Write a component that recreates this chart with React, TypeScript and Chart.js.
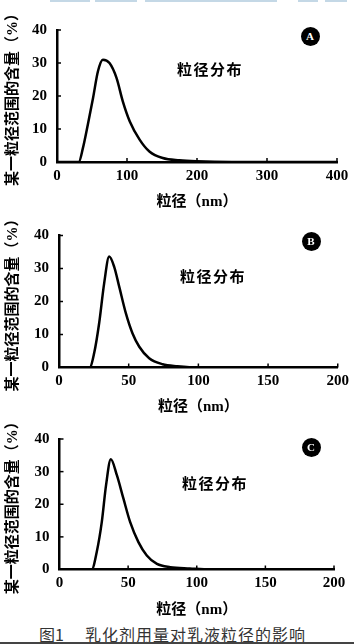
import React, { useEffect, useRef } from "react";
import { Chart, registerables } from "chart.js";

Chart.register(...registerables);

// ---- data ----
const sizeA = [0, 31, 37, 44, 51.5, 58.5, 65.5, 75, 85, 94, 104, 118, 132, 151, 175, 200, 250, 300, 400];
const contentA = [0, 0, 4.2, 11.3, 19.4, 27.5, 31, 30, 25.5, 18.4, 12.3, 6.8, 3.2, 1.2, 0.5, 0.2, 0, 0, 0];

const sizeB = [0, 22, 25.2, 28.8, 32.4, 36, 39.6, 43.2, 48, 52.7, 57.6, 64.7, 74.3, 85, 100, 150, 200];
const contentB = [0, 0, 4.3, 13.4, 25.5, 33.6, 30.5, 24.5, 16.4, 10.4, 6.3, 2.8, 1, 0.4, 0, 0, 0];

const sizeC = [0, 23.5, 27.1, 30.8, 33.9, 37.4, 41.8, 46.6, 51.5, 57.5, 63.6, 71, 80.7, 95, 110, 150, 200];
const contentC = [0, 0, 5.3, 14.5, 25.8, 33.8, 28.9, 21.7, 14.5, 8.4, 4.3, 1.7, 0.7, 0.3, 0, 0, 0];

const xTicksA = [0, 100, 200, 300, 400];
const xTicksBC = [0, 50, 100, 150, 200];
const yTicks = [0, 10, 20, 30, 40];

const xTitle = "粒径（nm）";
const yTitle = "某一粒径范围的含量（%）";
const seriesLabel = "粒径分布";
const caption1 = "图1";
const caption2 = "乳化剂用量对乳液粒径的影响";

const W = 354;

const innerTicks = {
  id: "innerTicks",
  afterDraw(chart: any) {
    const ctx = chart.ctx;
    const { x, y } = chart.scales;
    ctx.save();
    ctx.strokeStyle = "#000";
    ctx.lineWidth = 1.5;
    x.ticks.forEach((t: any) => {
      if (t.value === 0) return;
      const px = x.getPixelForValue(t.value);
      ctx.beginPath();
      ctx.moveTo(px, y.bottom);
      ctx.lineTo(px, y.bottom - 4);
      ctx.stroke();
    });
    y.ticks.forEach((t: any) => {
      if (t.value === 0) return;
      const py = y.getPixelForValue(t.value);
      ctx.beginPath();
      ctx.moveTo(x.left, py);
      ctx.lineTo(x.left + 4, py);
      ctx.stroke();
    });
    ctx.restore();
  },
};

type PanelProps = {
  top: number;
  height: number;
  plotTop: number;
  plotBottom: number;
  plotLeft: number;
  plotRight: number;
  xs: number[];
  ys: number[];
  xTicks: number[];
  tickPad: number;
  titlePad: number;
};

function Panel(p: PanelProps) {
  const ref = useRef<HTMLCanvasElement>(null);
  useEffect(() => {
    if (!ref.current) return;
    const tickFont = { family: '"Liberation Serif", "DejaVu Serif", serif', size: 15, weight: "bold" as const };
    const titleFont = { family: '"Liberation Serif", "Noto Sans CJK SC", serif', size: 15, weight: "bold" as const };
    const xMax = p.xTicks[p.xTicks.length - 1];
    const chart = new Chart(ref.current, {
      type: "line",
      data: {
        datasets: [
          {
            label: seriesLabel,
            data: p.xs.map((v, i) => ({ x: v, y: p.ys[i] })),
            borderColor: "#000",
            borderWidth: 2.5,
            pointRadius: 0,
            fill: false,
            cubicInterpolationMode: "monotone",
          },
        ],
      },
      options: {
        animation: false,
        responsive: false,
        maintainAspectRatio: false,
        layout: {
          padding: { left: 0, top: p.plotTop - p.top, right: W - p.plotRight, bottom: 0 },
        },
        plugins: { legend: { display: false }, tooltip: { enabled: false } },
        scales: {
          x: {
            type: "linear",
            min: 0,
            max: xMax,
            afterFit: (s: any) => {
              s.height = p.top + p.height - p.plotBottom;
            },
            afterBuildTicks: (s: any) => {
              s.ticks = p.xTicks.map((v) => ({ value: v }));
            },
            ticks: { color: "#000", font: tickFont, padding: p.tickPad, maxRotation: 0, autoSkip: false },
            grid: { display: false, drawTicks: false },
            border: { display: true, color: "#000", width: 2.5 },
            title: {
              display: true,
              text: xTitle,
              color: "#000",
              font: titleFont,
              padding: { top: 0, bottom: p.titlePad },
            },
          },
          y: {
            type: "linear",
            min: 0,
            max: 40,
            afterFit: (s: any) => {
              s.width = p.plotLeft;
            },
            afterBuildTicks: (s: any) => {
              s.ticks = yTicks.map((v) => ({ value: v }));
            },
            ticks: { color: "#000", font: tickFont, padding: 10 },
            grid: { display: false, drawTicks: false },
            border: { display: true, color: "#000", width: 2.5 },
            title: {
              display: true,
              text: yTitle,
              color: "#000",
              font: titleFont,
              padding: { top: 4, bottom: 0 },
            },
          },
        },
      },
      plugins: [innerTicks],
    } as any);
    return () => chart.destroy();
  }, []);
  return (
    <canvas
      ref={ref}
      width={W}
      height={p.height}
      style={{ position: "absolute", left: 0, top: p.top, width: W, height: p.height }}
    />
  );
}

function Badge({ x, y, letter }: { x: number; y: number; letter: string }) {
  return (
    <div
      style={{
        position: "absolute",
        left: x - 9.5,
        top: y - 9.5,
        width: 19,
        height: 19,
        borderRadius: "50%",
        background: "#000",
        color: "#fff",
        font: 'bold 11px "Liberation Serif", serif',
        lineHeight: "19px",
        textAlign: "center",
      }}
    >
      {letter}
    </div>
  );
}

function Label({ x, y }: { x: number; y: number }) {
  return (
    <div
      style={{
        position: "absolute",
        left: x,
        top: y - 10,
        height: 20,
        lineHeight: "20px",
        font: 'bold 15px "Noto Sans CJK SC", sans-serif',
        letterSpacing: "1.5px",
        color: "#000",
        whiteSpace: "nowrap",
      }}
    >
      {seriesLabel}
    </div>
  );
}

const topBars = [
  [50, 40],
  [95, 42],
  [145, 132],
  [298, 20],
  [325, 22],
];

export default function App() {
  return (
    <div style={{ position: "absolute", left: 0, top: 0, width: W, height: 644, background: "#fff", overflow: "hidden" }}>
      {topBars.map(([l, w], i) => (
        <div key={i} style={{ position: "absolute", left: l, top: 0, width: w, height: 2, background: "#c4d8e6" }} />
      ))}
      <Panel top={0} height={215} plotTop={30} plotBottom={162} plotLeft={57} plotRight={337} xs={sizeA} ys={contentA} xTicks={xTicksA} tickPad={5} titlePad={4} />
      <Panel top={215} height={205} plotTop={235.5} plotBottom={367.5} plotLeft={59} plotRight={338} xs={sizeB} ys={contentB} xTicks={xTicksBC} tickPad={5} titlePad={3.5} />
      <Panel top={420} height={200} plotTop={439} plotBottom={569.5} plotLeft={59.5} plotRight={334} xs={sizeC} ys={contentC} xTicks={xTicksBC} tickPad={5} titlePad={1} />
      <Badge x={310} y={36} letter="A" />
      <Badge x={311} y={241} letter="B" />
      <Badge x={311} y={447} letter="C" />
      <Label x={177} y={68} />
      <Label x={180} y={275} />
      <Label x={182} y={482} />
      <div
        style={{
          position: "absolute",
          left: 39,
          top: 622,
          height: 20,
          lineHeight: "20px",
          font: '16px "Noto Sans CJK SC", sans-serif',
          color: "#333",
          whiteSpace: "nowrap",
        }}
      >
        {caption1}
      </div>
      <div
        style={{
          position: "absolute",
          left: 85,
          top: 622,
          height: 20,
          lineHeight: "20px",
          font: '16px "Noto Sans CJK SC", sans-serif',
          letterSpacing: "1px",
          color: "#333",
          whiteSpace: "nowrap",
        }}
      >
        {caption2}
      </div>
      <div style={{ position: "absolute", left: 0, top: 642, width: W, height: 2, background: "#444" }} />
    </div>
  );
}
